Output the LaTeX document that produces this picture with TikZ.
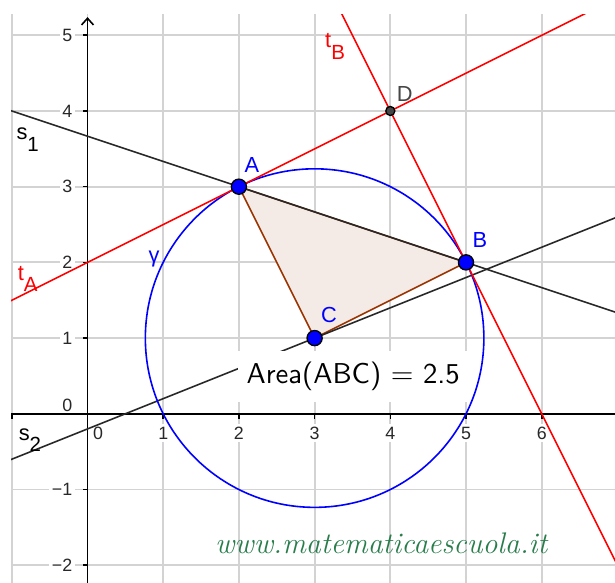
\documentclass[tikz,border=0pt]{standalone}
\usepackage{fontspec}
\usetikzlibrary{calc,arrows.meta}
\newfontfamily\ggbfont{Liberation Sans}
\definecolor{ggbgrid}{RGB}{211,211,211}
\definecolor{ggbblue}{RGB}{0,0,255}
\definecolor{ggbred}{RGB}{255,0,0}
\definecolor{ggbline}{RGB}{40,40,40}
\definecolor{ggbbrown}{RGB}{153,51,0}
\definecolor{ggbfill}{RGB}{245,235,230}
\definecolor{ggbdark}{RGB}{70,70,70}
\definecolor{ggbtext}{RGB}{40,40,40}
\definecolor{ggbgreen}{RGB}{40,125,75}
\newcommand{\sublbl}[2]{#1\raisebox{-4.3pt}{\fontsize{7.7}{8}\selectfont #2}}

\begin{document}
\begin{tikzpicture}[
    gridline/.style={draw=ggbgrid, line width=0.7pt},
    axis/.style={draw=black, line width=0.6pt},
    tick/.style={font=\ggbfont\fontsize{6.7}{7}\selectfont, text=ggbtext, fill=white, inner sep=1pt},
    tangent/.style={draw=ggbred, line width=0.6pt},
    secant/.style={draw=ggbline, line width=0.6pt},
    circ/.style={draw=ggbblue, line width=0.6pt},
    tri/.style={draw=ggbbrown, fill=ggbfill, line width=0.6pt, line join=round},
    bigpt/.style={circle, draw=black, fill=ggbblue, line width=0.5pt, inner sep=0pt, minimum size=0.2cm},
    smallpt/.style={circle, draw=black, fill=ggbdark, line width=0.5pt, inner sep=0pt, minimum size=0.12cm},
    ptlabel/.style={font=\ggbfont\fontsize{8.2}{9}\selectfont, inner sep=0pt},
    areabox/.style={fill=white, inner sep=0pt, minimum width=3.04cm, minimum height=0.67cm,
                    font=\sffamily\fontsize{10.8}{12}\selectfont}
]
    \useasboundingbox (-1.156,-2.235) rectangle (6.968,5.466);
    \coordinate (A) at (2,3);
    \coordinate (B) at (5,2);
    \coordinate (C) at (3,1);
    \coordinate (D) at (4,4);

    \begin{scope}
        \clip (-1.01,-2.3) rectangle (7,5.268);
        \draw[gridline] (-1,-3) grid (7,6);
    \end{scope}
    \node[tick] (lx0) at (0.14,-0.254) {0};
    \foreach \x in {1,...,6}
        \node[tick] (lx\x) at (\x,-0.254) {\x};
    \node[tick, anchor=east] (ly0) at (-0.16,0.116) {0};
    \foreach \y/\t [count=\i] in {-2/−2,-1/−1,1/1,2/2,3/3,4/4,5/5}
        \node[tick, anchor=east] (ly\i) at (-0.16,\y) {\t};
    \draw[axis] (-1.01,0) -- (6.968,0);
    \draw[axis, -{Straight Barb[length=2.5pt, width=4.5pt]}] (0,-2.235) -- (0,5.24);
    \foreach \x in {-1,...,6}
        \draw[axis] (\x,0) -- (\x,-0.065);
    \foreach \y in {-2,...,5}
        \draw[axis] (0,\y) -- (-0.065,\y);

    \begin{scope}
        \clip (-1.01,-2.3) rectangle (7,5.268);
        \draw[tri] (A) -- (B) -- (C) -- cycle;
        \draw[secant] ($(A)!-2!(B)$) -- ($(A)!3!(B)$);
        \draw[secant] ($(C)+(-5,-2)$) -- ($(C)+(5,2)$);
        \draw[circ] (C) circle ({sqrt(5)});
        \draw[tangent] ($(A)!-2!(D)$) -- ($(A)!3!(D)$);
        \draw[tangent] ($(D)!-2!(B)$) -- ($(D)!4!(B)$);
    \end{scope}

    \node[areabox] (area) at (3.51,0.49) {Area(ABC) $=$ 2.5};

    \node[bigpt] (dotA) at (A) {};
    \node[bigpt] (dotB) at (B) {};
    \node[bigpt] (dotC) at (C) {};
    \node[smallpt] (dotD) at (D) {};

    \node[ptlabel, text=ggbblue] (labA) at (2.17,3.29) {A};
    \node[ptlabel, text=ggbblue] (labB) at (5.185,2.29) {B};
    \node[ptlabel, text=ggbblue] (labC) at (3.19,1.30) {C};
    \node[ptlabel, text=ggbdark] (labD) at (4.19,4.225) {D};
    \node[ptlabel, text=ggbred] (labtA) at (-0.79,1.78) {\sublbl{t}{A}};
    \node[ptlabel, text=ggbred] (labtB) at (3.27,4.85) {\sublbl{t}{B}};
    \node[ptlabel, text=ggbblue] (labg) at (0.878,2.05) {γ};
    \node[ptlabel, text=black] (labs1) at (-0.79,3.62) {\sublbl{s}{1}};
    \node[ptlabel, text=black] (labs2) at (-0.76,-0.35) {\sublbl{s}{2}};

    \node[font=\itshape\fontsize{11.2}{13}\selectfont, text=ggbgreen] (site) at (3.88,-1.71) {www.matematicaescuola.it};
\end{tikzpicture}
\end{document}
